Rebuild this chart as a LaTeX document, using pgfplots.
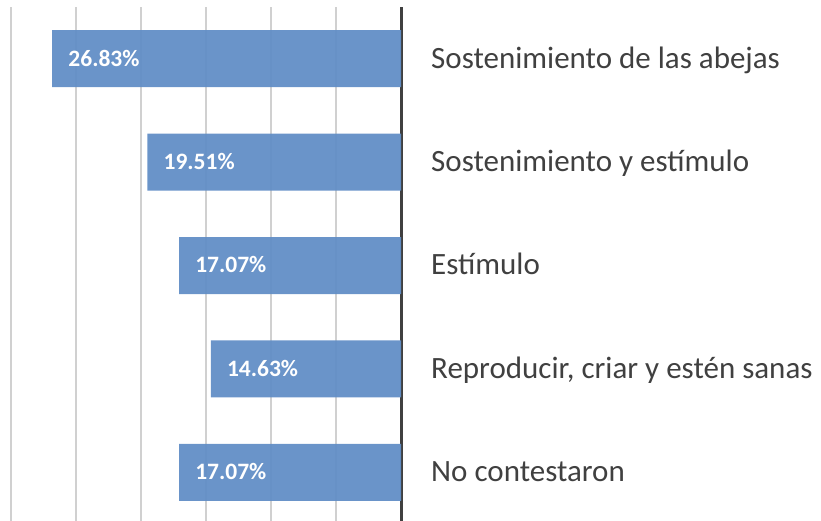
\documentclass[border=0pt]{standalone}
\usepackage{fontspec}
\setmainfont{Carlito}
\usepackage{pgfplots}
\pgfplotsset{compat=1.18}
\definecolor{barblue}{RGB}{98,142,198}
\definecolor{gridgray}{RGB}{208,208,208}
\definecolor{axisgray}{RGB}{64,64,64}
\definecolor{textgray}{RGB}{64,64,64}
\begin{document}
\begin{tikzpicture}
\path[use as bounding box] (0,0) rectangle (821pt,520pt);
\begin{axis}[
  at={(0pt,-4pt)}, anchor=south west,
  scale only axis, width=401pt, height=517pt,
  xbar, bar width=57pt,
  x dir=reverse,
  xmin=0, xmax=30.85,
  ymin=-0.5, ymax=4.5,
  axis line style={draw=none},
  xtick={5,10,...,30}, xticklabels={},
  xmajorgrids,
  major grid style={gridgray, line width=1.5pt},
  major tick length=0pt,
  extra x ticks={0}, extra x tick labels={},
  extra x tick style={grid=major, major grid style={axisgray, line width=3pt}},
  ytick={0,1,2,3,4},
  yticklabel pos=right,
  yticklabels={No contestaron, {Reproducir, criar y estén sanas}, Estímulo, Sostenimiento y estímulo, Sostenimiento de las abejas},
  yticklabel style={anchor=mid west, inner sep=0pt, yshift=-7pt, font=\fontsize{31}{37}\selectfont, text=textgray},
  yticklabel shift=30pt,
  point meta=explicit symbolic,
  nodes near coords={\pgfplotspointmeta\%},
  every node near coord/.style={anchor=mid west, inner sep=0pt, xshift=16pt, yshift=-5pt, text=white, font=\fontsize{23.5}{28}\selectfont\bfseries},
]
\addplot[draw=none, fill=barblue, fill opacity=0.95, text opacity=1] coordinates {
  (17.07,0) [17.07]
  (14.63,1) [14.63]
  (17.07,2) [17.07]
  (19.51,3) [19.51]
  (26.83,4) [26.83]
};
\end{axis}
\end{tikzpicture}
\end{document}
